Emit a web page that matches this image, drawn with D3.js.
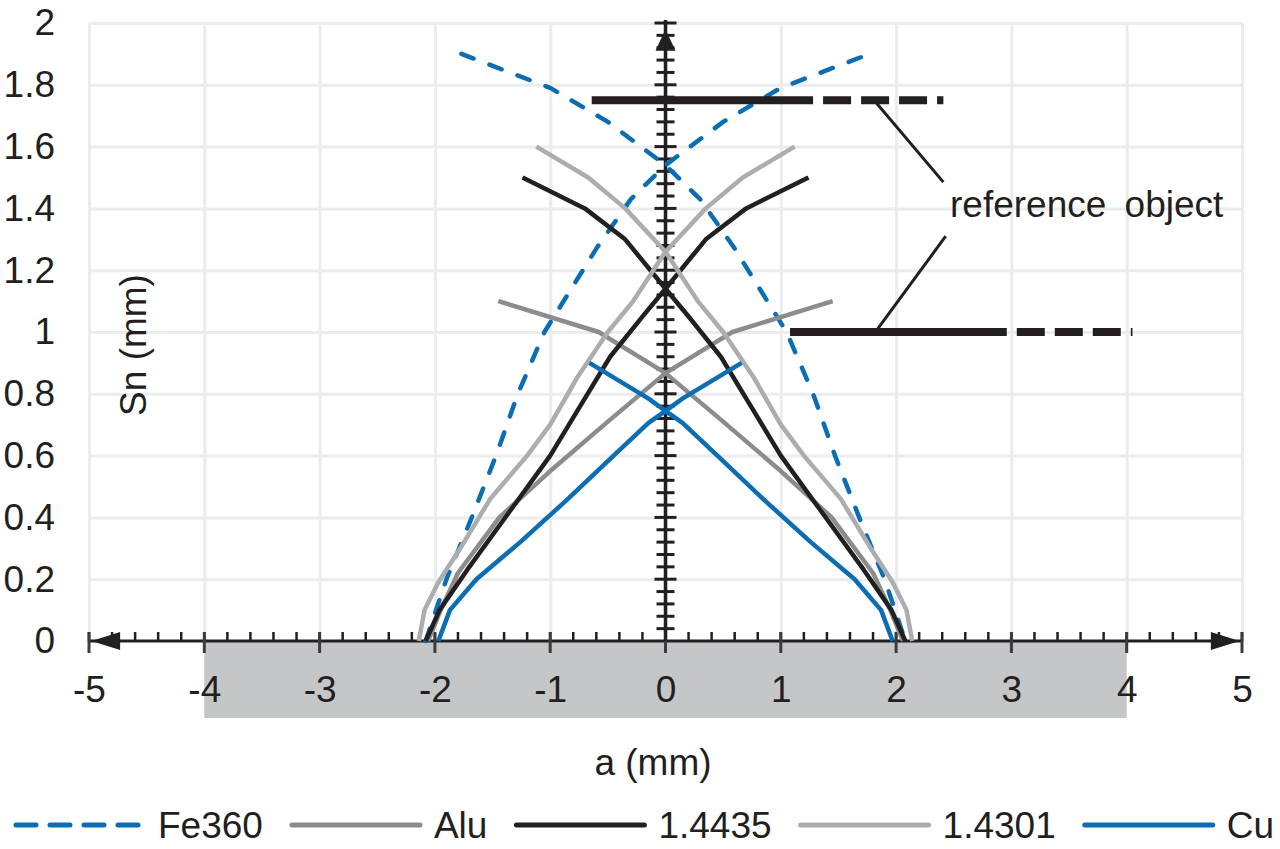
<!DOCTYPE html>
<html>
<head>
<meta charset="utf-8">
<script src="https://cdn.jsdelivr.net/npm/d3@7"></script>
<style>
  body { margin: 0; background: #fff; }
  text { font-family: "Liberation Sans", Arial, sans-serif; fill: #231f20; }
</style>
</head>
<body>
<svg id="chart" width="1280" height="849"></svg>
<script>
// axis ticks and labels
var xTicks = [-5, -4, -3, -2, -1, 0, 1, 2, 3, 4, 5];
var xLabels = ["-5", "-4", "-3", "-2", "-1", "0", "1", "2", "3", "4", "5"];
var yTicks = [0, 0.2, 0.4, 0.6, 0.8, 1, 1.2, 1.4, 1.6, 1.8, 2];
var yLabels = ["0", "0.2", "0.4", "0.6", "0.8", "1", "1.2", "1.4", "1.6", "1.8", "2"];

// series: [a (mm), Sn (mm)], rising branch and falling branch
var fe360Rise = [[-2.08, 0], [-1.9, 0.2], [-1.68, 0.4], [-1.47, 0.6], [-1.28, 0.8], [-1.05, 1.0], [-0.6, 1.27], [-0.3, 1.43], [0, 1.54], [0.5, 1.68], [1.0, 1.79], [1.77, 1.9]];
var fe360Fall = [[-1.77, 1.9], [-1.0, 1.79], [-0.5, 1.68], [0, 1.54], [0.3, 1.43], [0.6, 1.27], [1.05, 1.0], [1.28, 0.8], [1.47, 0.6], [1.68, 0.4], [1.9, 0.2], [2.08, 0]];
var aluRise = [[-2.06, 0], [-1.95, 0.1], [-1.8, 0.22], [-1.44, 0.4], [-1.0, 0.55], [-0.5, 0.71], [0, 0.867], [0.58, 1.0], [1.45, 1.1]];
var aluFall = [[-1.45, 1.1], [-0.58, 1.0], [0, 0.867], [0.5, 0.71], [1.0, 0.55], [1.44, 0.4], [1.8, 0.22], [1.95, 0.1], [2.06, 0]];
var s14435Rise = [[-2.08, 0], [-1.96, 0.1], [-1.72, 0.23], [-1.35, 0.42], [-1.0, 0.6], [-0.74, 0.76], [-0.48, 0.92], [-0.2, 1.05], [0, 1.14], [0.35, 1.3], [0.7, 1.4], [1.24, 1.5]];
var s14435Fall = [[-1.24, 1.5], [-0.7, 1.4], [-0.35, 1.3], [0, 1.14], [0.2, 1.05], [0.48, 0.92], [0.74, 0.76], [1.0, 0.6], [1.35, 0.42], [1.72, 0.23], [1.96, 0.1], [2.08, 0]];
var s14301Rise = [[-2.14, 0], [-2.09, 0.1], [-1.97, 0.19], [-1.78, 0.3], [-1.52, 0.46], [-1.2, 0.6], [-1.0, 0.7], [-0.77, 0.85], [-0.5, 1.0], [-0.28, 1.1], [0, 1.26], [0.35, 1.4], [0.67, 1.5], [1.12, 1.6]];
var s14301Fall = [[-1.12, 1.6], [-0.67, 1.5], [-0.35, 1.4], [0, 1.26], [0.28, 1.1], [0.5, 1.0], [0.77, 0.85], [1.0, 0.7], [1.2, 0.6], [1.52, 0.46], [1.78, 0.3], [1.97, 0.19], [2.09, 0.1], [2.14, 0]];
var cuRise = [[-1.97, 0], [-1.87, 0.1], [-1.64, 0.2], [-1.26, 0.32], [-0.86, 0.455], [-0.45, 0.6], [-0.15, 0.705], [0, 0.745], [0.15, 0.785], [0.66, 0.9]];
var cuFall = [[-0.66, 0.9], [-0.15, 0.785], [0, 0.745], [0.15, 0.705], [0.45, 0.6], [0.86, 0.455], [1.26, 0.32], [1.64, 0.2], [1.87, 0.1], [1.97, 0]];

var seriesNames = ["Fe360", "Alu", "1.4435", "1.4301", "Cu"];
var seriesColors = ["#0b6db3", "#8b8c8e", "#231f20", "#abadb0", "#0b6db3"];
var seriesDash = [true, false, false, false, false];
var seriesData = [[fe360Rise, fe360Fall], [aluRise, aluFall], [s14435Rise, s14435Fall], [s14301Rise, s14301Fall], [cuRise, cuFall]];

// reference objects: y, start, end of solid part, end
var refY = [1.75, 1.0];
var refStart = [-0.64, 1.08];
var refSolidEnd = [1.28, 2.96];
var refEnd = [2.41, 4.05];
// leader lines to the label
var leaders = [[[1.82, 1.745], [2.41, 1.485]], [[2.43, 1.31], [1.84, 1.01]]];

var svg = d3.select("#chart");
var x = d3.scaleLinear().domain([-5, 5]).range([89, 1242]);
var y = d3.scaleLinear().domain([0, 2]).range([641, 23]);
var fontSize = 37;

// grid lines
var gridY = svg.append("g")
    .attr("transform", "translate(" + x(-5) + ",0)")
    .call(d3.axisLeft(y).tickValues(yTicks.slice(1)).tickSize(-(x(5) - x(-5))).tickFormat(""));
var gridX = svg.append("g")
    .attr("transform", "translate(0," + y(0) + ")")
    .call(d3.axisBottom(x).tickValues(xTicks).tickSize(-(y(0) - y(2))).tickFormat(""));
[gridY, gridX].forEach(function (g) {
    g.select(".domain").remove();
    g.selectAll("line").attr("stroke", "#ebecee").attr("stroke-width", 3);
});

// grey band under the x axis
svg.append("rect")
    .attr("x", x(-4))
    .attr("y", y(0))
    .attr("width", x(4) - x(-4))
    .attr("height", 77)
    .style("fill", "#c5c6c7");

// tick labels
var yLab = svg.append("g")
    .attr("transform", "translate(" + x(-5) + ",0)")
    .call(d3.axisLeft(y).tickValues(yTicks).tickSize(0).tickPadding(34)
        .tickFormat(function (d, i) { return yLabels[i]; }));
var xLab = svg.append("g")
    .attr("transform", "translate(0," + y(0) + ")")
    .call(d3.axisBottom(x).tickValues(xTicks).tickSize(0).tickPadding(35)
        .tickFormat(function (d, i) { return xLabels[i]; }));
[yLab, xLab].forEach(function (g) {
    g.select(".domain").remove();
    g.selectAll("text")
        .style("font-size", fontSize + "px")
        .style("font-family", "'Liberation Sans', Arial, sans-serif")
        .attr("fill", "#231f20");
});

// x axis line, ticks and arrows
var ax = svg.append("g");
ax.append("line")
    .attr("x1", x(-5)).attr("x2", x(5))
    .attr("y1", y(0)).attr("y2", y(0))
    .attr("stroke", "#231f20").attr("stroke-width", 3);
ax.selectAll("line.xminor")
    .data(d3.range(-25, 26).map(function (i) { return i / 5; }))
    .enter()
    .append("line")
    .attr("class", "xminor")
    .attr("x1", function (d) { return x(d); })
    .attr("x2", function (d) { return x(d); })
    .attr("y1", y(0) - 9)
    .attr("y2", y(0))
    .attr("stroke", "#231f20").attr("stroke-width", 2.5);
ax.selectAll("line.xmajor")
    .data(xTicks)
    .enter()
    .append("line")
    .attr("class", "xmajor")
    .attr("x1", function (d) { return x(d); })
    .attr("x2", function (d) { return x(d); })
    .attr("y1", y(0) - 9)
    .attr("y2", y(0) + 12)
    .attr("stroke", "#3c3c3e").attr("stroke-width", 3);
ax.append("path")
    .attr("d", "M" + x(-4.98) + "," + y(0) + "L" + x(-4.73) + "," + (y(0) - 9) + "L" + x(-4.73) + "," + (y(0) + 9) + "Z")
    .attr("fill", "#231f20");
ax.append("path")
    .attr("d", "M" + x(4.98) + "," + y(0) + "L" + x(4.73) + "," + (y(0) - 9) + "L" + x(4.73) + "," + (y(0) + 9) + "Z")
    .attr("fill", "#231f20");

// y axis line, ticks and arrow
ax.append("line")
    .attr("x1", x(0)).attr("x2", x(0))
    .attr("y1", y(0)).attr("y2", y(2.01))
    .attr("stroke", "#231f20").attr("stroke-width", 3.5);
ax.selectAll("line.yminor")
    .data(d3.range(1, 51).map(function (i) { return i * 0.04; }))
    .enter()
    .append("line")
    .attr("class", "yminor")
    .attr("x1", function (d, i) { return x(0) - ((i + 1) % 5 === 0 ? 11 : 9); })
    .attr("x2", function (d, i) { return x(0) + ((i + 1) % 5 === 0 ? 11 : 9); })
    .attr("y1", function (d) { return y(d); })
    .attr("y2", function (d) { return y(d); })
    .attr("stroke", "#231f20").attr("stroke-width", 3);
ax.append("path")
    .attr("d", "M" + x(0) + "," + y(1.98) + "L" + (x(0) - 10) + "," + y(1.91) + "L" + (x(0) + 10) + "," + y(1.91) + "Z")
    .attr("fill", "#231f20");

// curves
var line = d3.line()
    .x(function (d) { return x(d[0]); })
    .y(function (d) { return y(d[1]); });
seriesData.forEach(function (pair, i) {
    pair.forEach(function (branch) {
        svg.append("path")
            .datum(branch)
            .attr("d", line)
            .attr("fill", "none")
            .attr("stroke", seriesColors[i])
            .attr("stroke-width", 4.5)
            .attr("stroke-linejoin", "round")
            .attr("stroke-linecap", seriesDash[i] ? "round" : "butt")
            .attr("stroke-dasharray", seriesDash[i] ? "13,17" : null);
    });
});

// reference objects
refY.forEach(function (ry, i) {
    svg.append("line")
        .attr("x1", x(refStart[i])).attr("x2", x(refSolidEnd[i]))
        .attr("y1", y(ry)).attr("y2", y(ry))
        .attr("stroke", "#231f20").attr("stroke-width", 8);
    svg.append("line")
        .attr("x1", x(refSolidEnd[i])).attr("x2", x(refEnd[i]))
        .attr("y1", y(ry)).attr("y2", y(ry))
        .attr("stroke", "#231f20").attr("stroke-width", 8)
        .attr("stroke-dasharray", "28,10")
        .attr("stroke-dashoffset", 28);
});
leaders.forEach(function (l) {
    svg.append("line")
        .attr("x1", x(l[0][0])).attr("y1", y(l[0][1]))
        .attr("x2", x(l[1][0])).attr("y2", y(l[1][1]))
        .attr("stroke", "#231f20").attr("stroke-width", 3);
});
svg.append("text")
    .attr("x", 950)
    .attr("y", 217)
    .style("font-size", fontSize + "px")
    .style("word-spacing", "8px")
    .text("reference object");

// axis titles
svg.append("text")
    .attr("transform", "translate(146,345) rotate(-90)")
    .attr("text-anchor", "middle")
    .style("font-size", fontSize + "px")
    .text("Sn (mm)");
svg.append("text")
    .attr("x", 653)
    .attr("y", 775)
    .attr("text-anchor", "middle")
    .style("font-size", fontSize + "px")
    .text("a (mm)");

// legend (the last label runs to the right edge, as in the original)
var legend = svg.append("g");
var lx = 16, ly = 825;
seriesNames.forEach(function (name, i) {
    legend.append("line")
        .attr("x1", lx).attr("x2", lx + 128)
        .attr("y1", ly).attr("y2", ly)
        .attr("stroke", seriesColors[i])
        .attr("stroke-width", 5)
        .attr("stroke-linecap", "round")
        .attr("stroke-dasharray", seriesDash[i] ? "20,14" : null);
    var t = legend.append("text")
        .attr("x", lx + 142)
        .attr("y", ly + 13)
        .style("font-size", fontSize + "px")
        .text(name);
    lx = lx + 142 + t.node().getComputedTextLength() + 29;
});
</script>
</body>
</html>
